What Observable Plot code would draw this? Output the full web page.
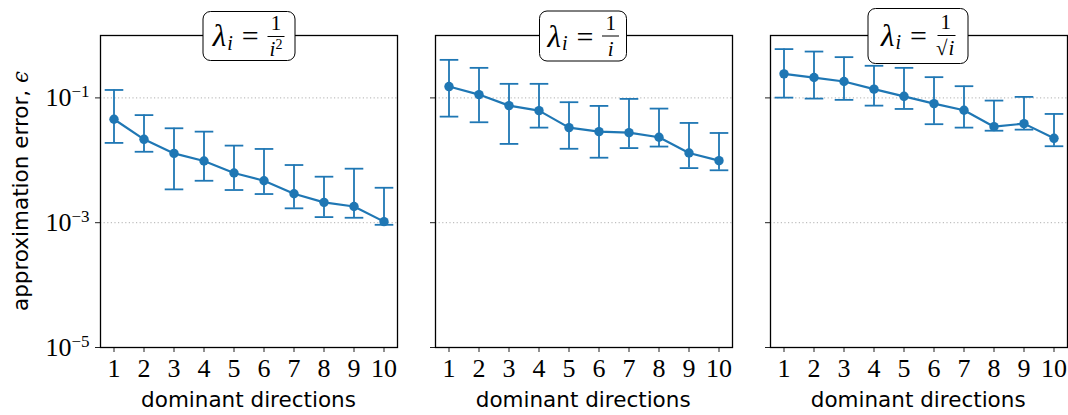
<!DOCTYPE html>
<html>
<head>
<meta charset="utf-8">
<script src="https://cdn.jsdelivr.net/npm/d3@7"></script>
<script src="https://cdn.jsdelivr.net/npm/@observablehq/plot@0.6"></script>
<style>
  html, body { margin: 0; padding: 0; background: #fff; }
  #chart { position: relative; width: 1068px; height: 415px; overflow: hidden; }
  .panel { position: absolute; top: 0; }
  .xlab { position: absolute; font-family: "DejaVu Sans", sans-serif; font-size: 21.5px; color: #000; text-align: center; line-height: 1; }
  .ylab { position: absolute; font-family: "DejaVu Sans", sans-serif; font-size: 21.5px; color: #000; white-space: nowrap; line-height: 1;
          transform: translate(-50%, -50%) rotate(-90deg); }
  .ylab .eps { font-family: "DejaVu Serif", serif; font-style: italic; }
  .tbox { position: absolute; box-sizing: border-box; border: 1.6px solid #000; border-radius: 8px; background: #fff;
          display: flex; align-items: center; justify-content: center; transform: translate(-50%, -50%);
          font-family: "Liberation Serif", serif; color: #000; white-space: nowrap; }
  .lam { font-style: italic; font-size: 31px; }
  .sub { font-style: italic; font-size: 20px; position: relative; top: 7px; margin-left: 1px; }
  .eq { font-size: 30px; margin: 0 9px 0 9px; }
  .frac { display: inline-flex; flex-direction: column; align-items: center; font-size: 21px; line-height: 1; }
  .num { padding: 0 3px 2px 3px; border-bottom: 1.6px solid #000; }
  .den { padding-top: 2px; font-style: italic; }
  .den sup { font-style: normal; font-size: 14px; vertical-align: 7px; line-height: 0; }
  .sqrt { font-style: normal; }
  .rad { border-top: 1.3px solid #000; padding: 0 1px; font-style: italic; }
</style>
</head>
<body>
<div id="chart"></div>
<script>
// ---- data ----
const directions = [1, 2, 3, 4, 5, 6, 7, 8, 9, 10];
const panelTitles = ["1/i^2", "1/i", "1/sqrt(i)"];

// lambda_i = 1/i^2
const errA   = [0.0455, 0.0217, 0.0129, 0.00975, 0.00625, 0.00471, 0.00291, 0.00212, 0.00182, 0.00104];
const upperA = [0.134,  0.053,  0.0326, 0.0288,  0.0172,  0.0152,  0.0084,  0.00546, 0.00734, 0.00363];
const lowerA = [0.019,  0.0137, 0.00342, 0.0047, 0.00334, 0.00288, 0.0017,  0.00123, 0.0012,  0.000925];

// lambda_i = 1/i
const errB   = [0.152, 0.113, 0.0752, 0.0625, 0.0334, 0.0288, 0.0277, 0.0234, 0.0131, 0.00986];
const upperB = [0.407, 0.303, 0.168,  0.168,  0.0853, 0.0744, 0.0964, 0.0674, 0.0397, 0.0274];
const lowerB = [0.0501, 0.0407, 0.0183, 0.0334, 0.0153, 0.0110, 0.0157, 0.0166, 0.0075, 0.00692];

// lambda_i = 1/sqrt(i)
const errC   = [0.243, 0.212, 0.183, 0.138, 0.106, 0.0811, 0.0634, 0.0346, 0.0387, 0.0225];
const upperC = [0.605, 0.553, 0.450, 0.327, 0.303, 0.215,  0.154,  0.0906, 0.1038, 0.0553];
const lowerC = [0.101, 0.0975, 0.093, 0.0752, 0.0665, 0.0379, 0.0334, 0.0298, 0.031, 0.0168];

const yTicks = [1e-5, 1e-3, 1e-1];
const gridTicks = [1e-3, 1e-1];
const yDomain = [1e-5, 1];
const xDomain = [0.55, 10.45];

const xLabel = "dominant directions";
const yLabel = "approximation error, ";

// ---- layout / style ----
const color = "#1f77b4";
const H = 415, MT = 35, MB = 68;
const frameW = 297;
const frameLefts = [100, 434.7, 769.7];

const series = [
  {err: errA, hi: upperA, lo: lowerA},
  {err: errB, hi: upperB, lo: lowerB},
  {err: errC, hi: upperC, lo: lowerC}
];

const capSymbol = {
  draw(context, size) {
    const r = Math.sqrt(size / Math.PI);
    context.moveTo(-r, 0);
    context.lineTo(r, 0);
  }
};

const chart = document.getElementById("chart");

series.forEach((s, k) => {
  const rows = directions.map((d, i) => ({x: d, y: s.err[i], hi: s.hi[i], lo: s.lo[i]}));
  const ML = k === 0 ? 100 : 12;
  const MR = 2;
  const plot = Plot.plot({
    width: ML + frameW + MR,
    height: H,
    marginLeft: ML,
    marginRight: MR,
    marginTop: MT,
    marginBottom: MB,
    style: {background: "transparent", overflow: "visible"},
    x: {type: "linear", domain: xDomain},
    y: {type: "log", domain: yDomain},
    marks: [
      Plot.ruleY(gridTicks, {stroke: "#b0b0b0", strokeWidth: 1, strokeDasharray: "1.2,2.4"}),
      Plot.axisX({ticks: directions, tickSize: 5, tickPadding: 6, label: null, tickFormat: d => String(d),
                  stroke: "#222", fill: "#000", fontSize: 26, fontFamily: "Liberation Serif, serif"}),
      Plot.axisY({ticks: yTicks, tickSize: 5, tickPadding: 6, label: null,
                  tickFormat: k === 0 ? (d => "10^" + String(Math.round(Math.log10(d))).replace("-", "\u2212")) : (() => ""),
                  stroke: "#222", fill: "#000", fontSize: 26, fontFamily: "Liberation Serif, serif"}),
      Plot.ruleX(rows, {x: "x", y1: "lo", y2: "hi", stroke: color, strokeWidth: 1.8}),
      Plot.dot(rows, {x: "x", y: "hi", symbol: capSymbol, r: 9.3, stroke: color, strokeWidth: 1.8, fill: "none"}),
      Plot.dot(rows, {x: "x", y: "lo", symbol: capSymbol, r: 9.3, stroke: color, strokeWidth: 1.8, fill: "none"}),
      Plot.line(rows, {x: "x", y: "y", stroke: color, strokeWidth: 2.2}),
      Plot.dot(rows, {x: "x", y: "y", r: 4.7, fill: color, stroke: "none"}),
      Plot.frame({stroke: "#000", strokeWidth: 1.3})
    ]
  });
  plot.classList.add("panel");
  plot.style.left = (frameLefts[k] - ML) + "px";
  // superscript exponents on the y tick labels
  d3.select(plot).selectAll('g[aria-label="y-axis tick label"] text').each(function() {
    const t = this.textContent;
    if (t.indexOf("^") < 0) return;
    const [base, ex] = t.split("^");
    const sel = d3.select(this);
    sel.text(null);
    sel.append("tspan").text(base);
    sel.append("tspan").attr("font-size", 17).attr("dy", -9).text(ex);
  });
  chart.appendChild(plot);

  // x label
  const xl = document.createElement("div");
  xl.className = "xlab";
  xl.textContent = xLabel;
  xl.style.left = frameLefts[k] + "px";
  xl.style.width = frameW + "px";
  xl.style.top = "389px";
  chart.appendChild(xl);

  // title box
  const box = document.createElement("div");
  box.className = "tbox";
  const cx = frameLefts[k] + frameW / 2;
  box.style.left = cx + "px";
  box.style.top = (k === 2 ? 35.5 : 36) + "px";
  box.style.width = [93, 88, 101][k] + "px";
  box.style.height = [50, 51, 56][k] + "px";
  const lam = '<span class="lam">\u03bb</span><span class="sub">i</span><span class="eq">=</span>';
  let den;
  if (panelTitles[k] === "1/i^2") den = 'i<sup>2</sup>';
  else if (panelTitles[k] === "1/i") den = 'i';
  else den = '<span class="sqrt">\u221a</span><span class="rad">i</span>';
  box.innerHTML = lam + '<span class="frac"><span class="num">1</span><span class="den">' + den + '</span></span>';
  chart.appendChild(box);
});

// y label
const yl = document.createElement("div");
yl.className = "ylab";
yl.innerHTML = yLabel + '<span class="eps">\u03f5</span>';
yl.style.left = "21px";
yl.style.top = "191px";
chart.appendChild(yl);
</script>
</body>
</html>
